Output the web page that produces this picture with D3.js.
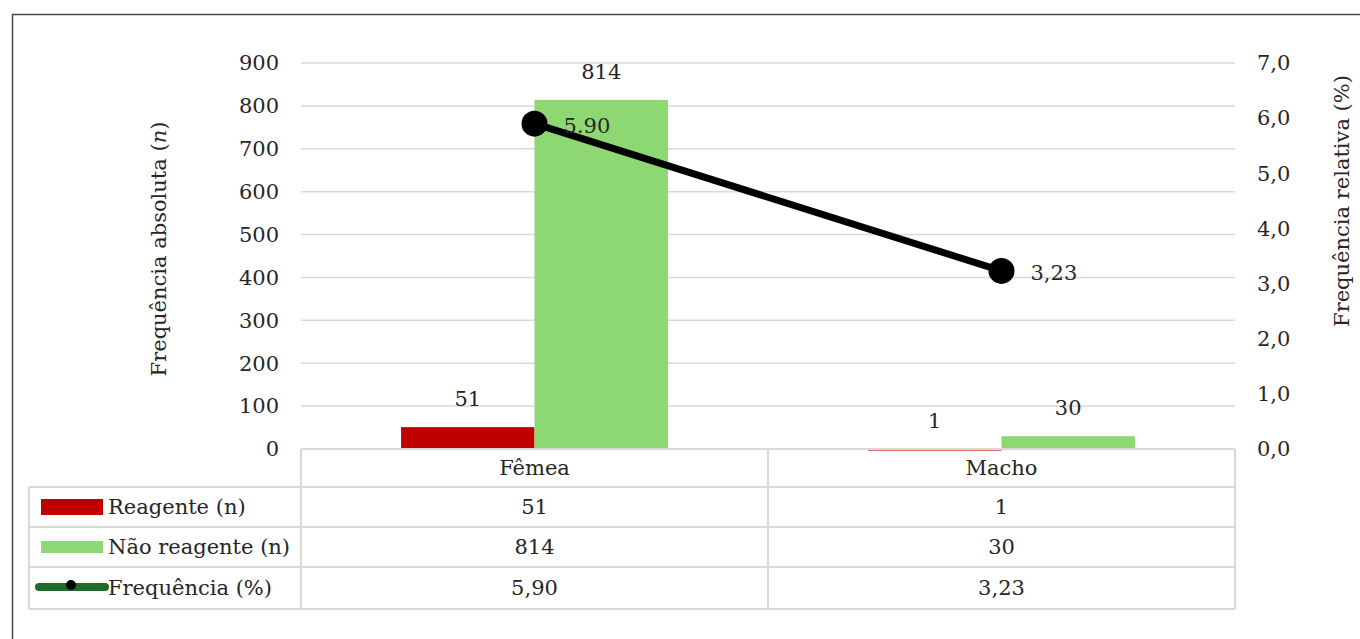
<!DOCTYPE html>
<html>
<head>
<meta charset="utf-8">
<script src="https://cdn.jsdelivr.net/npm/d3@7"></script>
<style>
  body { margin: 0; background: #fff; }
  text { font-family: "DejaVu Serif", serif; fill: #262626; }
</style>
</head>
<body>
<div class="container"></div>
<script>
// data
const categories = ['Fêmea', 'Macho'];
const reagente = [51, 1];
const naoReagente = [814, 30];
const frequencia = [5.90, 3.23];
const leftTicks = [0, 100, 200, 300, 400, 500, 600, 700, 800, 900];
const rightTicks = [0, 1, 2, 3, 4, 5, 6, 7];
const seriesNames = ['Reagente (n)', 'Não reagente (n)', 'Frequência (%)'];

const width = 1360, height = 639;
const margin = {top: 63, right: 125, bottom: 190, left: 301};
const fontSize = 21;

const svg = d3.select('.container')
    .append('svg')
    .attr('width', width)
    .attr('height', height);

svg.append('rect')
    .attr('width', width).attr('height', height)
    .attr('fill', '#fff');

// outer frame
svg.append('rect')
    .attr('x', 12.5).attr('y', 14.5)
    .attr('width', width).attr('height', height)
    .attr('fill', 'none')
    .attr('stroke', '#4a4a4a')
    .attr('stroke-width', 1.5);

const plotLeft = margin.left, plotRight = width - margin.right;
const plotTop = margin.top, plotBottom = height - margin.bottom;

const x = d3.scaleBand().domain(categories).range([plotLeft, plotRight]);
const x1 = d3.scaleBand().domain(['r', 'n']).range([0, x.bandwidth()])
    .paddingInner(0).paddingOuter(0.75);
const y = d3.scaleLinear().domain([0, 900]).range([plotBottom, plotTop]);
const y2 = d3.scaleLinear().domain([0, 7]).range([plotBottom, plotTop]);

const fmt1 = d => d3.format('.1f')(d).replace('.', ',');
const fmt2 = d => d3.format('.2f')(d).replace('.', ',');

// gridlines
svg.append('g')
    .selectAll('line')
    .data(leftTicks.filter(d => d > 0))
    .enter().append('line')
    .attr('x1', plotLeft).attr('x2', plotRight)
    .attr('y1', d => y(d)).attr('y2', d => y(d))
    .attr('stroke', '#d9d9d9')
    .attr('stroke-width', 1.5);

// left axis labels
svg.append('g')
    .selectAll('text')
    .data(leftTicks)
    .enter().append('text')
    .attr('x', 279)
    .attr('y', d => y(d))
    .attr('dy', '0.35em')
    .attr('text-anchor', 'end')
    .attr('font-size', fontSize)
    .text(d => d);

// right axis labels
svg.append('g')
    .selectAll('text')
    .data(rightTicks)
    .enter().append('text')
    .attr('x', 1257)
    .attr('y', d => y2(d))
    .attr('dy', '0.35em')
    .attr('text-anchor', 'start')
    .attr('font-size', fontSize)
    .text(d => fmt1(d));

// axis titles
const leftTitle = svg.append('text')
    .attr('transform', `translate(166,249) rotate(-90)`)
    .attr('text-anchor', 'middle')
    .attr('font-size', fontSize);
leftTitle.append('tspan').text('Frequência absoluta (');
leftTitle.append('tspan').attr('font-style', 'italic').text('n');
leftTitle.append('tspan').text(')');

svg.append('text')
    .attr('transform', `translate(1349,201) rotate(-90)`)
    .attr('text-anchor', 'middle')
    .attr('font-size', fontSize)
    .text('Frequência relativa (%)');

// bars
const barData = [];
categories.forEach((c, i) => {
    barData.push({cat: c, key: 'r', value: reagente[i], color: '#c00000'});
    barData.push({cat: c, key: 'n', value: naoReagente[i], color: '#8ed873'});
});

svg.append('g')
    .selectAll('rect')
    .data(barData)
    .enter().append('rect')
    .attr('x', d => x(d.cat) + x1(d.key))
    .attr('y', d => y(d.value))
    .attr('width', x1.bandwidth())
    .attr('height', d => Math.max(y(0) - y(d.value), d.value > 0 ? 2 : 0))
    .attr('fill', d => d.color);

// bar value labels
svg.append('g')
    .selectAll('text')
    .data(barData)
    .enter().append('text')
    .attr('x', d => x(d.cat) + x1(d.key) + x1.bandwidth() / 2)
    .attr('y', d => y(d.value) - 21)
    .attr('text-anchor', 'middle')
    .attr('font-size', fontSize)
    .text(d => d.value);

// frequency line
const linePts = categories.map((c, i) => ({cat: c, value: frequencia[i]}));
const line = d3.line()
    .x(d => x(d.cat) + x.bandwidth() / 2)
    .y(d => y2(d.value));

svg.append('path')
    .datum(linePts)
    .attr('d', line)
    .attr('fill', 'none')
    .attr('stroke', '#000')
    .attr('stroke-width', 7);

svg.append('g')
    .selectAll('circle')
    .data(linePts)
    .enter().append('circle')
    .attr('cx', d => x(d.cat) + x.bandwidth() / 2)
    .attr('cy', d => y2(d.value))
    .attr('r', 13)
    .attr('fill', '#000');

svg.append('g')
    .selectAll('text')
    .data(linePts)
    .enter().append('text')
    .attr('x', d => x(d.cat) + x.bandwidth() / 2 + 29)
    .attr('y', d => y2(d.value) + 2)
    .attr('dy', '0.35em')
    .attr('font-size', fontSize)
    .text((d, i) => i === 0 ? d3.format('.2f')(d.value) : fmt2(d.value));

// data table
const tableTop = plotBottom, headerH = 38, rowH = 40;
const tableLeft = 29;
const rowsY = [tableTop, tableTop + headerH, tableTop + headerH + rowH,
    tableTop + headerH + 2 * rowH, tableTop + headerH + 3 * rowH + 2];
const tableBottom = rowsY[4];
const grid = svg.append('g')
    .attr('stroke', '#d9d9d9')
    .attr('stroke-width', 2);

grid.append('line')
    .attr('x1', plotLeft).attr('x2', plotRight)
    .attr('y1', rowsY[0]).attr('y2', rowsY[0]);
grid.selectAll('.hrow')
    .data(rowsY.slice(1))
    .enter().append('line')
    .attr('x1', tableLeft).attr('x2', plotRight)
    .attr('y1', d => d).attr('y2', d => d);
grid.append('line')
    .attr('x1', tableLeft).attr('x2', tableLeft)
    .attr('y1', rowsY[1]).attr('y2', tableBottom);
grid.selectAll('.vcol')
    .data([plotLeft, x(categories[1]), plotRight])
    .enter().append('line')
    .attr('x1', d => d).attr('x2', d => d)
    .attr('y1', rowsY[0]).attr('y2', tableBottom);

// header (categories)
svg.append('g')
    .selectAll('text')
    .data(categories)
    .enter().append('text')
    .attr('x', d => x(d) + x.bandwidth() / 2)
    .attr('y', (rowsY[0] + rowsY[1]) / 2)
    .attr('dy', '0.35em')
    .attr('text-anchor', 'middle')
    .attr('font-size', fontSize)
    .text(d => d);

// table values
const tableRows = [
    reagente.map(d => String(d)),
    naoReagente.map(d => String(d)),
    frequencia.map(fmt2)
];
tableRows.forEach((row, r) => {
    svg.append('g')
        .selectAll('text')
        .data(row)
        .enter().append('text')
        .attr('x', (d, i) => x(categories[i]) + x.bandwidth() / 2)
        .attr('y', (rowsY[r + 1] + rowsY[r + 2]) / 2)
        .attr('dy', '0.35em')
        .attr('text-anchor', 'middle')
        .attr('font-size', fontSize)
        .text(d => d);
});

// legend keys in table
const legend = svg.append('g');
const rowMid = r => (rowsY[r + 1] + rowsY[r + 2]) / 2;
legend.append('rect')
    .attr('x', 41).attr('y', rowMid(0) - 8)
    .attr('width', 62).attr('height', 16)
    .attr('fill', '#c00000');
legend.append('rect')
    .attr('x', 41).attr('y', rowMid(1) - 6)
    .attr('width', 62).attr('height', 12)
    .attr('fill', '#8ed873');
legend.append('line')
    .attr('x1', 39).attr('x2', 105)
    .attr('y1', rowMid(2) - 1).attr('y2', rowMid(2) - 1)
    .attr('stroke', '#1e6b2c')
    .attr('stroke-width', 8)
    .attr('stroke-linecap', 'round');
legend.append('circle')
    .attr('cx', 71).attr('cy', rowMid(2) - 3)
    .attr('r', 5)
    .attr('fill', '#000');
legend.selectAll('text')
    .data(seriesNames)
    .enter().append('text')
    .attr('x', 108)
    .attr('y', (d, i) => rowMid(i))
    .attr('dy', '0.35em')
    .attr('font-size', fontSize)
    .text(d => d);
</script>
</body>
</html>
